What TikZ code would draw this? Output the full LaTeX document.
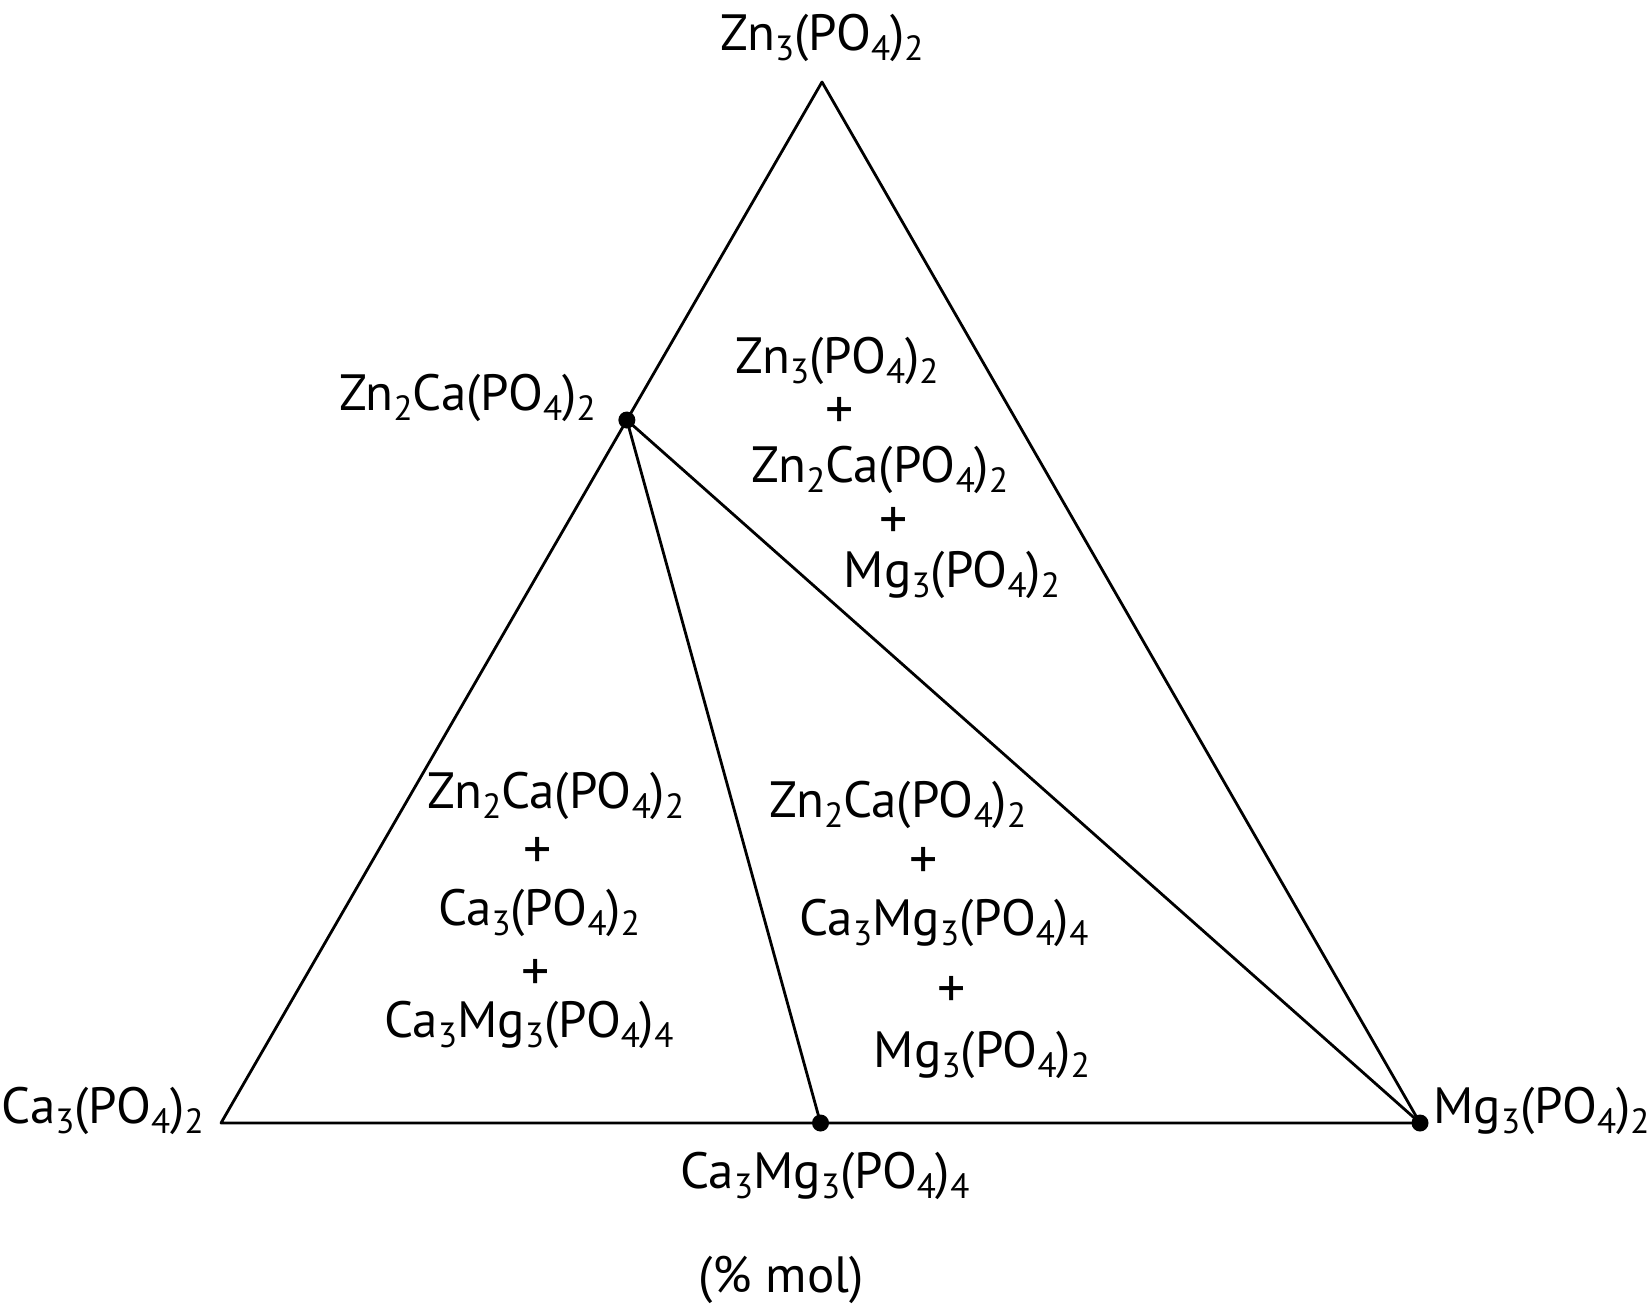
\documentclass[tikz,border=0pt]{standalone}
\usepackage{fontspec}
\setmainfont{PT Sans}
\usetikzlibrary{calc}
\newcommand{\sbs}[1]{\raisebox{-0.2em}{\fontsize{35}{40}\selectfont#1}}
\begin{document}
\begin{tikzpicture}[x=1pt,y=-1pt,line join=round,line cap=round,line width=2.8pt,
	lbl/.style={anchor=base,inner sep=0pt,font=\fontsize{51}{60}\selectfont},
	plus/.style={lbl,font=\fontsize{56}{60}\selectfont},
	dot/.style={circle,fill=black,inner sep=0pt,minimum size=17pt}]
	\useasboundingbox (0,0) rectangle (1650,1309);
	% sommets
	\coordinate (zn) at (822,82);
	\coordinate (ca) at (221,1123);
	\coordinate (mg) at (1420,1123);
	\coordinate (znca) at ($(zn)!0.3247!(ca)$);
	\coordinate (camg) at ($(ca)!0.5!(mg)$);
	\draw (zn) -- (ca) -- (mg) -- cycle;
	\draw (znca) -- (camg);
	\draw (znca) -- (mg);
	\node[dot] (dznca) at (znca) {};
	\node[dot] (dcamg) at (camg) {};
	\node[dot] (dmg) at (mg) {};
	% noms des sommets
	\node[lbl] (lzn) at (822,50) {Zn\sbs{3}(PO\sbs{4})\sbs{2}};
	\node[lbl,anchor=base east] (lznca) at (597,410) {Zn\sbs{2}Ca(PO\sbs{4})\sbs{2}};
	\node[lbl,anchor=base east] (lca) at (205,1123) {Ca\sbs{3}(PO\sbs{4})\sbs{2}};
	\node[lbl,anchor=base west] (lmg) at (1432,1123) {Mg\sbs{3}(PO\sbs{4})\sbs{2}};
	\node[lbl] (lcamg) at (825,1188) {Ca\sbs{3}Mg\sbs{3}(PO\sbs{4})\sbs{4}};
	\node[lbl] (lmol) at (781,1292) {(\% mol)};
	% domaine haut
	\node[lbl] (a1) at (837,373) {Zn\sbs{3}(PO\sbs{4})\sbs{2}};
	\node[plus] (a2) at (840,428) {+};
	\node[lbl] (a3) at (880,482) {Zn\sbs{2}Ca(PO\sbs{4})\sbs{2}};
	\node[plus] (a4) at (894,538) {+};
	\node[lbl] (a5) at (952,587) {Mg\sbs{3}(PO\sbs{4})\sbs{2}};
	% domaine gauche
	\node[lbl] (b1) at (556,808) {Zn\sbs{2}Ca(PO\sbs{4})\sbs{2}};
	\node[plus] (b2) at (538,868) {+};
	\node[lbl] (b3) at (539,925) {Ca\sbs{3}(PO\sbs{4})\sbs{2}};
	\node[plus] (b4) at (536,990) {+};
	\node[lbl] (b5) at (529,1037) {Ca\sbs{3}Mg\sbs{3}(PO\sbs{4})\sbs{4}};
	% domaine milieu
	\node[lbl] (c1) at (898,817) {Zn\sbs{2}Ca(PO\sbs{4})\sbs{2}};
	\node[plus] (c2) at (924,878) {+};
	\node[lbl] (c3) at (944,935) {Ca\sbs{3}Mg\sbs{3}(PO\sbs{4})\sbs{4}};
	\node[plus] (c4) at (952,1007) {+};
	\node[lbl] (c5) at (982,1067) {Mg\sbs{3}(PO\sbs{4})\sbs{2}};
\end{tikzpicture}
\end{document}
